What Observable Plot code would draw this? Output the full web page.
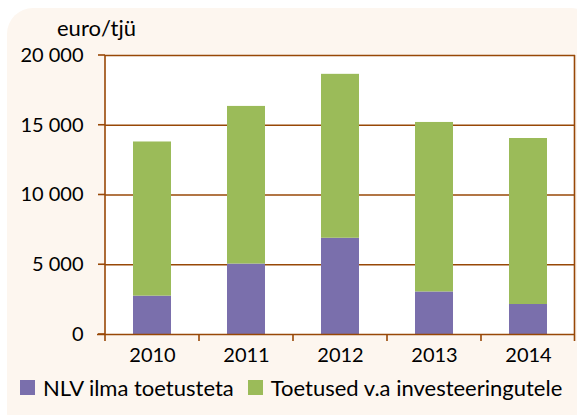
<!DOCTYPE html>
<html>
<head>
<meta charset="utf-8">
<script src="https://cdn.jsdelivr.net/npm/d3@7"></script>
<script src="https://cdn.jsdelivr.net/npm/@observablehq/plot@0.6"></script>
<style>
  html, body { margin: 0; padding: 0; background: #ffffff; }
  #wrap { position: relative; width: 577px; height: 415px; overflow: hidden; font-family: Lato, "Open Sans", sans-serif; }
  #bg { position: absolute; left: 7px; top: 8px; width: 590px; height: 430px; background: #fdf6ef; border-radius: 26px; }
  #chart { position: absolute; left: 0; top: 0; }
  #ylab { position: absolute; left: 57px; top: 14px; font-size: 22px; color: #000; }
  #legend { position: absolute; left: 20px; top: 374px; font-size: 22px; color: #000; display: flex; align-items: center; white-space: nowrap; }
  .sw { display: inline-block; width: 15px; height: 15px; margin-right: 8px; }
  .item { display: flex; align-items: center; margin-right: 14px; }
</style>
</head>
<body>
<div id="wrap">
  <div id="bg"></div>
  <div id="chart"></div>
  <div id="ylab">euro/tjü</div>
  <div id="legend"></div>
</div>
<script>
const years = ["2010", "2011", "2012", "2013", "2014"];
const seriesNames = ["NLV ilma toetusteta", "Toetused v.a investeeringutele"];
const nlv = [2750, 5050, 6900, 3050, 2150];
const toetused = [11050, 11300, 11750, 12150, 11900];
const seriesColors = ["#7a6fac", "#9bbb59"];
const yTicks = [0, 5000, 10000, 15000, 20000];

const data = [];
years.forEach((y, i) => {
  data.push({year: y, series: seriesNames[0], value: nlv[i]});
  data.push({year: y, series: seriesNames[1], value: toetused[i]});
});

const fmt = d => d3.format(",")(d).replace(/,/g, " ");
const brown = "#984807";

const chart = Plot.plot({
  width: 577,
  height: 415,
  marginLeft: 105,
  marginRight: 2,
  marginTop: 55,
  marginBottom: 81,
  style: {background: "transparent", fontFamily: "Lato, 'Open Sans', sans-serif", fontSize: "20px", color: "#000"},
  x: {domain: years, paddingInner: 0.6, paddingOuter: 0.3, label: null},
  y: {domain: [0, 20000], label: null},
  color: {domain: seriesNames, range: seriesColors},
  marks: [
    Plot.frame({fill: "white", stroke: null}),
    Plot.gridY(yTicks.filter(d => d > 0), {stroke: brown, strokeOpacity: 1, strokeWidth: 1.6}),
    Plot.barY(data, Plot.stackY({x: "year", y: "value", fill: "series", order: seriesNames})),
    Plot.ruleY([0], {stroke: brown, strokeWidth: 1.6, insetLeft: -8}),
    Plot.axisY(yTicks, {tickFormat: fmt, tickSize: 0, tickPadding: 22, fontSize: 20, fill: "#000"}),
    Plot.axisX({tickSize: 0, tickPadding: 13, fontSize: 20, fill: "#000"})
  ]
});
document.getElementById("chart").appendChild(chart);

// Plot borders and category-boundary ticks, positioned from Plot's scales
const xs = chart.scale("x"), ys = chart.scale("y");
const svg = d3.select(chart);
const left = 105, right = 577 - 2 - 0.5;
const y0 = ys.apply(0), yTop = ys.apply(20000);
const g = svg.append("g").attr("stroke", brown).attr("stroke-width", 1.6).attr("fill", "none");
g.append("line").attr("x1", left).attr("x2", left).attr("y1", yTop).attr("y2", y0 + 7);
g.append("line").attr("x1", right).attr("x2", right).attr("y1", yTop).attr("y2", y0 + 7);
yTicks.forEach(t => {
  g.append("line").attr("x1", left - 7).attr("x2", left).attr("y1", ys.apply(t)).attr("y2", ys.apply(t));
});
for (let i = 1; i < years.length; i++) {
  const xb = (xs.apply(years[i - 1]) + xs.apply(years[i]) + xs.bandwidth) / 2;
  g.append("line").attr("x1", xb).attr("x2", xb).attr("y1", y0).attr("y2", y0 + 7);
}

const leg = document.getElementById("legend");
seriesNames.forEach((n, i) => {
  const it = document.createElement("div");
  it.className = "item";
  it.innerHTML = `<span class="sw" style="background:${seriesColors[i]}"></span><span>${n}</span>`;
  leg.appendChild(it);
});
</script>
</body>
</html>
